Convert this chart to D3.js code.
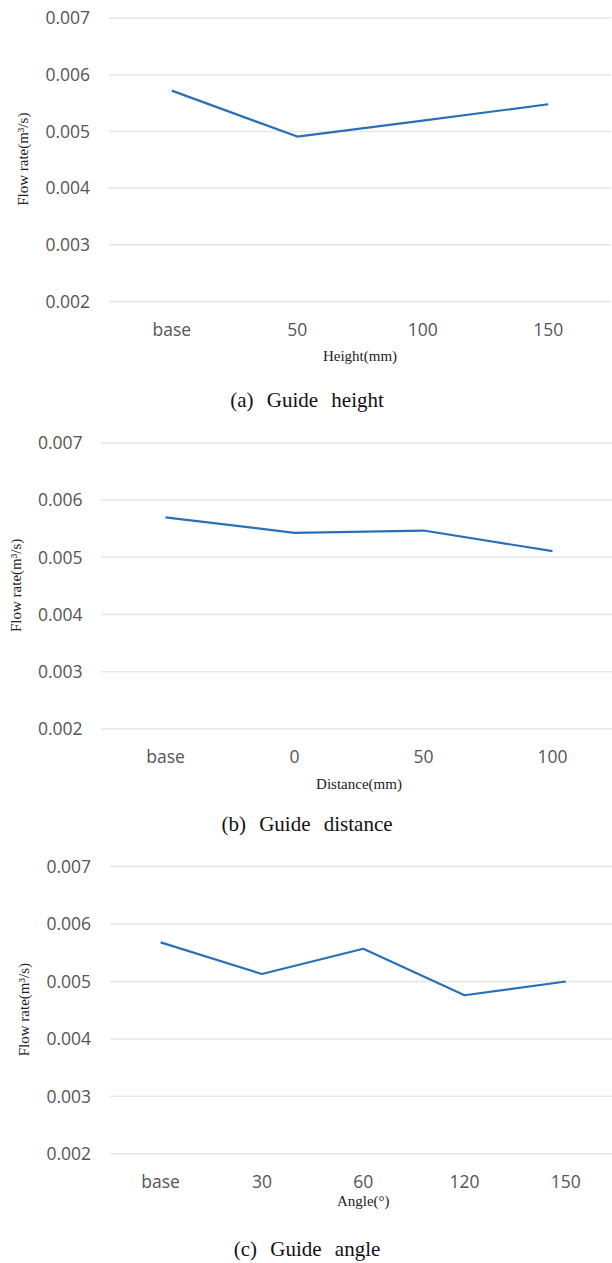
<!DOCTYPE html>
<html><head><meta charset="utf-8">
<script src="https://cdn.jsdelivr.net/npm/d3@7"></script>
<style>body{margin:0;background:#fff}svg{display:block}</style>
</head><body>
<svg id="c" width="612" height="1263"></svg>
<script>
const yTicks = [0.002, 0.003, 0.004, 0.005, 0.006, 0.007];
const heightCats = ["base", "50", "100", "150"];
const heightVals = [0.00571, 0.00490, 0.00518, 0.00547];
const distanceCats = ["base", "0", "50", "100"];
const distanceVals = [0.00569, 0.00542, 0.00546, 0.00510];
const angleCats = ["base", "30", "60", "120", "150"];
const angleVals = [0.00567, 0.00512, 0.00556, 0.00475, 0.00499];
const xTitles = ["Height(mm)", "Distance(mm)", "Angle(°)"];
const captions = ["(a) Guide height", "(b) Guide distance", "(c) Guide angle"];
const yTitle = "Flow rate(m³/s)";

const panels = [
  {cats: heightCats, vals: heightVals},
  {cats: distanceCats, vals: distanceVals},
  {cats: angleCats, vals: angleVals}
];
const layouts = [
  {left:109, right:611, top:17.5, bottom:301, yLabX:90, yTitleX:23, xTitleY:361, capY:407},
  {left:101, right:617, top:442.5, bottom:728.3, yLabX:82.5, yTitleX:16, xTitleY:789, capY:831},
  {left:110, right:616.5, top:866, bottom:1153.3, yLabX:91, yTitleX:24, xTitleY:1206, capY:1256}
];

const svg = d3.select("#c");
svg.append("rect").attr("width", 612).attr("height", 1263).attr("fill", "#fff");

panels.forEach((p, i) => {
  const L = layouts[i];
  const g = svg.append("g");
  const x = d3.scaleBand().domain(p.cats).range([L.left, L.right]);
  const y = d3.scaleLinear().domain([0.002, 0.007]).range([L.bottom, L.top]);
  const cx = c => x(c) + x.bandwidth() / 2;

  // y axis with gridlines
  const ya = g.append("g").attr("transform", `translate(${L.left},0)`)
    .call(d3.axisLeft(y).tickValues(yTicks).tickFormat(d3.format(".3f"))
      .tickSize(-(L.right - L.left)).tickPadding(L.left - L.yLabX));
  ya.select(".domain").remove();
  ya.selectAll(".tick line").attr("stroke", "#e6e6e6").attr("stroke-width", 1.5);
  ya.selectAll(".tick text").attr("font-family", "'Open Sans', sans-serif")
    .attr("font-size", 17.5).attr("fill", "#555").attr("dy", "0.36em");

  // x axis labels
  const xa = g.append("g").attr("transform", `translate(0,${L.bottom})`)
    .call(d3.axisBottom(x).tickSize(0).tickPadding(0));
  xa.select(".domain").remove();
  xa.selectAll(".tick text").attr("font-family", "'Open Sans', sans-serif")
    .attr("font-size", 17.5).attr("fill", "#555").attr("y", 34.5).attr("dy", 0);

  // line
  const line = d3.line().x(d => cx(d[0])).y(d => y(d[1]));
  g.append("path").datum(p.cats.map((c, k) => [c, p.vals[k]]))
    .attr("d", line).attr("fill", "none").attr("stroke", "#2a70b6")
    .attr("stroke-width", 2.2).attr("stroke-linejoin", "round");

  // axis titles
  g.append("text").attr("x", (L.left + L.right) / 2).attr("y", L.xTitleY)
    .attr("text-anchor", "middle").attr("font-family", "'Liberation Serif', 'Times New Roman', serif")
    .attr("font-size", 15).attr("fill", "#222").text(xTitles[i]);
  g.append("text")
    .attr("transform", `translate(${L.yTitleX},${(L.top + L.bottom) / 2}) rotate(-90)`)
    .attr("text-anchor", "middle").attr("dy", "0.35em")
    .attr("font-family", "'Liberation Serif', 'Times New Roman', serif")
    .attr("font-size", 15).attr("fill", "#222").text(yTitle);

  // caption
  g.append("text").attr("x", 307).attr("y", L.capY).attr("text-anchor", "middle")
    .attr("font-family", "'Liberation Serif', 'Times New Roman', serif")
    .attr("font-size", 21).attr("word-spacing", 8).attr("fill", "#111").text(captions[i]);
});
</script>
</body></html>
